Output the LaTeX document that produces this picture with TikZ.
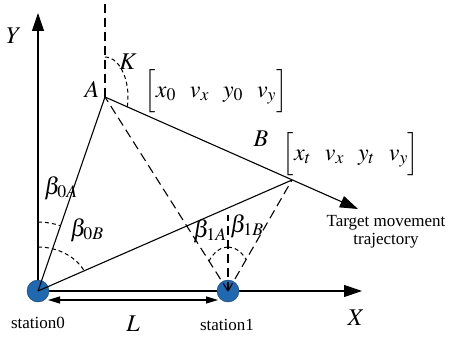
\documentclass[tikz,border=0pt]{standalone}
\usepackage{mathptmx}
\usepackage[no-math]{fontspec}
\setmainfont{Liberation Serif}
\usetikzlibrary{arrows.meta}
\definecolor{stblue}{RGB}{32,104,176}
\begin{document}
\begin{tikzpicture}[x=1pt,y=-1pt,
  axis/.style={line width=1.1pt,-{Triangle[length=18pt,width=12pt]}},
  solidline/.style={line width=1.1pt},
  dashline/.style={line width=1.1pt,dash pattern=on 9pt off 5pt},
  arcline/.style={line width=1pt,dash pattern=on 4pt off 3pt},
  station/.style={circle,fill=stblue,draw=stblue!60!black,line width=0.4pt,minimum size=22pt,inner sep=0pt},
  lab/.style={font=\fontsize{24}{28}\selectfont,inner sep=0pt},
  txt/.style={font=\fontsize{17}{20}\selectfont,inner sep=0pt,align=center}]
\useasboundingbox (0,0) rectangle (452,337);
% key points
\coordinate (A) at (105,97);
\coordinate (B) at (292,180);
\coordinate (Ytip) at (38,13);
\coordinate (Xtip) at (362,291);
\coordinate (Ttip) at (358,209);
\coordinate (Atop) at (105,0);
\coordinate (V1top) at (228,215);
\coordinate (L1) at (48,300);
\coordinate (L2) at (218,300);
% axes
\draw[axis] (38,291) -- (Xtip);
\draw[axis] (38,291) -- (Ytip);
% stations
\node[station] (s0) at (38,291) {};
\node[station] (s1) at (228,291) {};
% trajectory
\draw[axis] (A) -- (Ttip);
% lines from stations
\draw[solidline] (s0.center) -- (A);
\draw[solidline] (s0.center) -- (B);
\draw[dashline] (s1.center) -- (A);
\draw[dashline] (s1.center) -- (B);
\draw[dashline] (s1.center) -- (V1top);
\draw[dashline] (A) -- (Atop);
% distance L
\draw[line width=1.1pt,{Triangle[length=12pt,width=7pt]}-{Triangle[length=12pt,width=7pt]}] (L1) -- (L2);
% angle arcs
\draw[arcline] (s0.center) ++(0,-69) arc[start angle=90,end angle=70.9,radius=69pt];
\draw[arcline] (s0.center) ++(0,-44) arc[start angle=90,end angle=27.3,x radius=52pt,y radius=44pt];
\draw[arcline] (s1.center) ++(0,-44) arc[start angle=90,end angle=137,x radius=26pt,y radius=44pt];
\draw[arcline] (s1.center) ++(0,-44) arc[start angle=90,end angle=45.7,x radius=26pt,y radius=44pt];
\draw[arcline] (A) ++(0,-40) arc[start angle=90,end angle=-14.3,x radius=23pt,y radius=40pt];
% labels
\node[lab] (ylab) at (14,36) {$Y$};
\node[lab] (xlab) at (356,318) {$X$};
\node[lab] (alab) at (92,89) {$A$};
\node[lab] (klab) at (128,62) {$K$};
\node[lab] (blab) at (261,139) {$B$};
\node[lab] (llab) at (133,324) {$L$};
\node[lab] (b0a) at (61,188) {$\beta_{0A}$};
\node[lab] (b0b) at (87,230) {$\beta_{0B}$};
\node[lab] (b1a) at (210,231) {$\beta_{1A}$};
\node[lab] (b1b) at (247,226) {$\beta_{1B}$};
\node[lab] (m1) at (216,91) {$\left[\rule[-11pt]{0pt}{32pt}x_0\hskip14pt v_x\hskip14pt y_0\hskip14pt v_y\right]$};
\node[lab] (m2) at (351,154) {$\left[\rule[-11pt]{0pt}{32pt}x_t\hskip14pt v_x\hskip14pt y_t\hskip14pt v_y\right]$};
\node[txt] (st0) at (38,323) {station0};
\node[txt] (st1) at (227,325) {station1};
\node[txt] (traj) at (386,232) {Target movement\\[-2pt]trajectory};
\end{tikzpicture}
\end{document}
